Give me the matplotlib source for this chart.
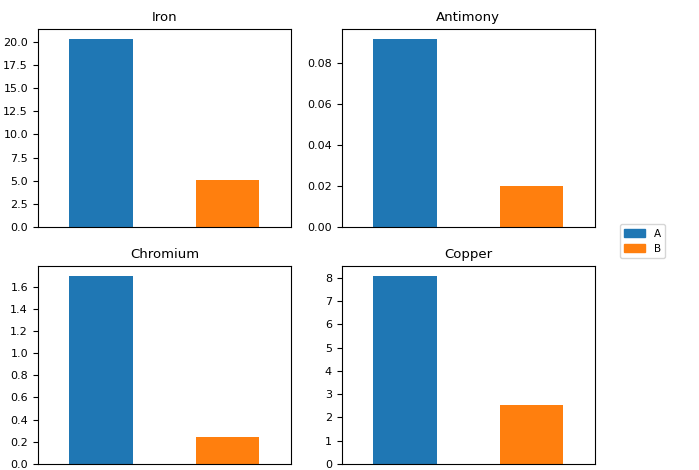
import matplotlib.pyplot as plt
from matplotlib.ticker import MultipleLocator

elements = ["Iron", "Antimony", "Chromium", "Copper"]
labels = ["A", "B"]
values_a = [20.4, 0.0922, 1.70, 8.10]
values_b = [5.08, 0.020, 0.243, 2.54]
tick_steps = [2.5, 0.02, 0.2, 1]
colors = ["#1f77b4", "#ff7f0e"]

fig, axes = plt.subplots(2, 2, figsize=(6.99, 4.70), dpi=100)
fig.subplots_adjust(left=0.054, right=0.851, top=0.938, bottom=0.013, wspace=0.2, hspace=0.2)

for ax, name, a, b, step in zip(axes.flat, elements, values_a, values_b, tick_steps):
    ax.bar([0, 1], [a, b], width=0.5, color=colors)
    ax.set_xlim(-0.5, 1.5)
    ax.set_xticks([])
    ax.yaxis.set_major_locator(MultipleLocator(step))
    ax.set_title(name, fontsize=9.5)
    ax.tick_params(axis="y", labelsize=8)

handles = [plt.Rectangle((0, 0), 1, 1, color=c) for c in colors]
fig.legend(handles, labels, loc="center left", bbox_to_anchor=(0.88, 0.487), fontsize=7.5)

plt.savefig("out.png")
